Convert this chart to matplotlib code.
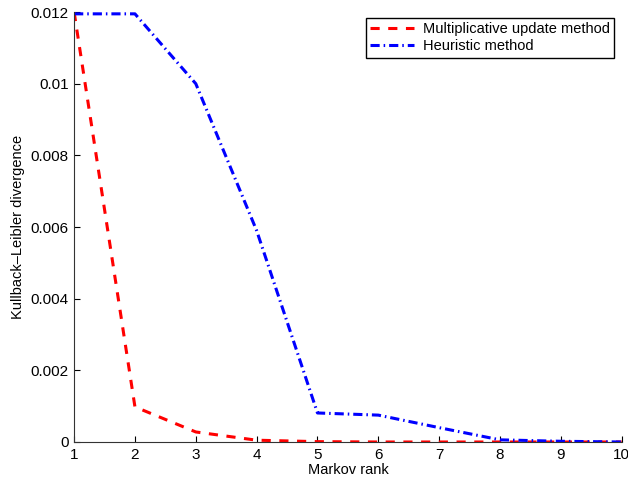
import numpy as np
from matplotlib import pyplot as plt

plt.rcParams['font.family'] = ['Liberation Sans', 'DejaVu Sans']

rank = [1, 2, 3, 4, 5, 6, 7, 8, 9, 10]
multiplicative = [0.012, 0.00098, 0.00028, 0.00005, 0.00001, 0.0, 0.0, 0.0, 0.0, 0.0]
heuristic = [0.01195, 0.01195, 0.0100, 0.0059, 0.00081, 0.00075, 0.00040, 0.00006, 0.00002, 0.0]
yticks = [0, 0.002, 0.004, 0.006, 0.008, 0.01, 0.012]
ytick_labels = ['0', '0.002', '0.004', '0.006', '0.008', '0.01', '0.012']

fig = plt.figure(figsize=(6.28, 4.82), dpi=100)
ax = fig.add_axes([0.118, 0.083, 0.872, 0.892])

ax.plot(rank, multiplicative, color='red', lw=2.2, linestyle=(0, (3.0, 2.8)),
        label='Multiplicative update method')
ax.plot(rank, heuristic, color='blue', lw=2.2, linestyle=(0, (3.0, 1.3, 0.5, 1.3)),
        label='Heuristic method')

ax.set_xlim(1, 10)
ax.set_ylim(0, 0.012)
ax.set_xticks(rank)
ax.set_yticks(yticks)
ax.set_yticklabels(ytick_labels)
ax.tick_params(direction='in', length=4, labelsize=11, top=False, right=False, pad=4)
ax.spines['top'].set_visible(False)
ax.spines['right'].set_visible(False)
for s in ['left', 'bottom']:
    ax.spines[s].set_color('#333333')
    ax.spines[s].set_linewidth(0.8)

ax.set_xlabel('Markov rank', fontsize=10.5, labelpad=1)
ax.set_ylabel('Kullback\u2013Leibler divergence', fontsize=10.5, labelpad=4)

leg = ax.legend(loc='upper right', bbox_to_anchor=(0.986, 0.986), fontsize=10.5,
                fancybox=False, edgecolor='black', framealpha=1,
                handlelength=3.0, borderpad=0.3, labelspacing=0.2,
                handletextpad=0.6, borderaxespad=0)
leg.get_frame().set_linewidth(1.0)

plt.savefig('out.png', dpi=100)
